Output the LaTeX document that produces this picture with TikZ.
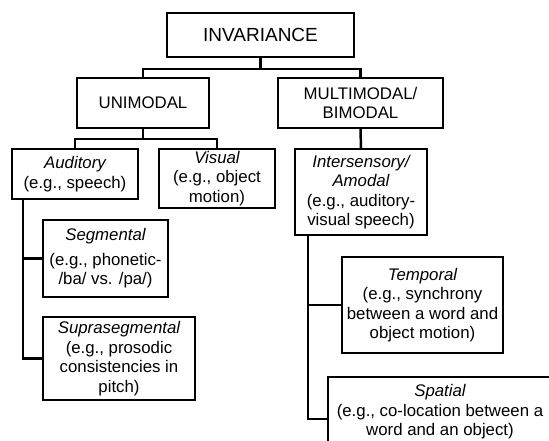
\documentclass[tikz,border=0pt]{standalone}
\usepackage{fontspec}
\setmainfont{Liberation Sans}
\begin{document}
\begin{tikzpicture}[x=1pt, y=-1pt, line width=2.2pt,
	box/.style={draw, rectangle, align=center, inner sep=1pt, font=\fontsize{16.8}{19.5}\selectfont},
	link/.style={draw, line width=2.5pt}]
				\useasboundingbox (0,0) rectangle (549,441);
				\clip (0,0) rectangle (549,441);
				\node[box, minimum width=187, minimum height=44, font=\fontsize{19}{22}\selectfont] at (260.5,35) (inv) {INVARIANCE};
				\node[box, minimum width=132, minimum height=50] at (143,103) (uni) {UNIMODAL};
				\node[box, minimum width=165, minimum height=50] at (360.5,103) (multi) {MULTIMODAL/\\BIMODAL};
				\node[box, minimum width=126, minimum height=50] at (75,174) (aud) {\itshape Auditory\\(e.g., speech)};
				\node[box, minimum width=116, minimum height=59] at (217,178.5) (vis) {\itshape Visual\\(e.g., object\\motion)};
				\node[box, minimum width=132, minimum height=86] at (361,192) (inter) {\itshape Intersensory/\\\itshape Amodal\\(e.g., auditory-\\visual speech)};
				\node[box, minimum width=125, minimum height=77] at (105.5,258.5) (seg) {\itshape Segmental\\[5pt](e.g., phonetic-\\/ba/ vs. /pa/)};
				\node[box, minimum width=152, minimum height=83] at (119,358.5) (supra) {\itshape Suprasegmental\\(e.g., prosodic\\consistencies in\\pitch)};
				\node[box, minimum width=161, minimum height=96] at (422.5,305) (temp) {\itshape Temporal\\(e.g., synchrony\\between a word and\\object motion)};
				\node[box, minimum width=224, minimum height=70] at (440,412) (spa) {\itshape Spatial\\(e.g., co-location between a\\word and an object)};
				\draw[link] (inv.south) -- ++(0,11) -| (uni.north);
				\draw[link] (inv.south) -- ++(0,11) -| (multi.north);
				\draw[link] (uni.south) -- ++(0,10) -| (aud.north);
				\draw[link] (uni.south) -- ++(0,10) -| (vis.north);
				\draw[link] (multi.south) -- (inter.north);
				\draw[link] ([xshift=12pt]aud.south west) |- (seg.west);
				\draw[link] ([xshift=12pt]aud.south west) |- (supra.west);
				\draw[link] ([xshift=14pt]inter.south west) |- (temp.west);
				\draw[link] ([xshift=14pt]inter.south west) |- ([yshift=-7pt]spa.west);
\end{tikzpicture}
\end{document}
